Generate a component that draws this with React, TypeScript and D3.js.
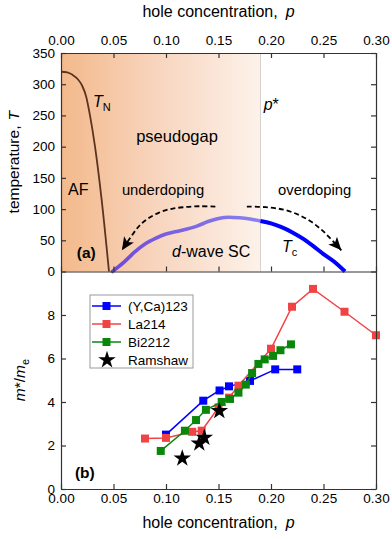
import * as d3 from 'd3';
import React, { useEffect, useRef } from 'react';

// Axis ticks
const pTicks = [0, 0.05, 0.1, 0.15, 0.2, 0.25, 0.3];
const tTicks = [0, 50, 100, 150, 200, 250, 300, 350];
const mTicks = [0, 2, 4, 6, 8];

// (a) phase diagram, [p, T]
const pStar = 0.19;
const tnCurve = [[0, 320], [0.006, 319], [0.011, 315], [0.016, 308], [0.02, 298], [0.024, 280], [0.0276, 250], [0.0324, 200], [0.0387, 115], [0.0457, 0]];
const scDome = [[0.049, 0], [0.06, 15], [0.07, 31], [0.08, 44], [0.09, 53], [0.1, 60], [0.11, 64], [0.12, 68], [0.13, 73], [0.14, 80], [0.15, 85], [0.16, 87], [0.17, 86], [0.18, 84], [0.19, 81], [0.2, 77], [0.21, 71], [0.22, 63], [0.23, 53], [0.24, 41], [0.25, 28], [0.26, 16], [0.2705, 0]];
const underArrow = [[0.147, 104], [0.132, 104.5], [0.117, 103], [0.104, 100], [0.093, 94], [0.083, 85], [0.075, 74], [0.068, 59], [0.058, 34]];
const overArrow = [[0.177, 104], [0.195, 103], [0.212, 99], [0.226, 91], [0.238, 80], [0.248, 67], [0.256, 54], [0.267, 34]];

// (b) effective mass, [p, m*/me]
const ycaData = [[0.1, 2.5], [0.1355, 4.06], [0.151, 4.53], [0.16, 4.72], [0.18, 4.97], [0.204, 5.5], [0.225, 5.5]];
const laData = [[0.08, 2.32], [0.1, 2.35], [0.125, 2.63], [0.134, 2.68], [0.15, 3.75], [0.16, 4.2], [0.169, 4.75], [0.2, 6.45], [0.22, 8.38], [0.24, 9.2], [0.27, 8.15], [0.3, 7.07]];
const biData = [[0.095, 1.75], [0.118, 2.68], [0.1286, 3.17], [0.138, 3.64], [0.153, 4.0], [0.161, 4.14], [0.169, 4.43], [0.176, 4.8], [0.182, 5.33], [0.188, 5.75], [0.194, 5.96], [0.202, 6.12], [0.209, 6.38], [0.219, 6.65]];
const ramshawData = [[0.1155, 1.41], [0.1317, 2.1], [0.1365, 2.36], [0.1508, 3.59]];

const seriesNames = ['(Y,Ca)123', 'La214', 'Bi2212', 'Ramshaw'];
const seriesColors = ['#0000ff', '#f04444', '#0a870a', '#000000'];

export default function App() {
    const svgRef = useRef(null);

    const width = 392;
    const height = 539;
    const left = 61;
    const right = 376;
    const top = 53;
    const mid = 271.5;
    const bottom = 489;
    const font = '"Liberation Sans", Arial, sans-serif';

    useEffect(() => {
        const svg = d3.select(svgRef.current);
        svg.selectAll('*').remove();

        const x = d3.scaleLinear().domain([0, 0.3]).range([left, right]);
        const yT = d3.scaleLinear().domain([0, 350]).range([mid, top]);
        const yM = d3.scaleLinear().domain([0, 10]).range([bottom, mid]);

        // GRADIENTS
        const defs = svg.append('defs');
        const pg = defs.append('linearGradient')
            .attr('id', 'pg')
            .attr('gradientUnits', 'userSpaceOnUse')
            .attr('x1', x(0)).attr('x2', x(pStar)).attr('y1', 0).attr('y2', 0);
        pg.append('stop').attr('offset', 0).attr('stop-color', '#f3b98b');
        pg.append('stop').attr('offset', 0.5).attr('stop-color', '#f8d6c0');
        pg.append('stop').attr('offset', 1).attr('stop-color', '#fdf2ea');

        const dg = defs.append('linearGradient')
            .attr('id', 'dg')
            .attr('gradientUnits', 'userSpaceOnUse')
            .attr('x1', x(0.05)).attr('x2', x(pStar)).attr('y1', 0).attr('y2', 0);
        dg.append('stop').attr('offset', 0).attr('stop-color', '#6e4bd8');
        dg.append('stop').attr('offset', 1).attr('stop-color', '#8a82ee');

        defs.append('marker')
            .attr('id', 'head')
            .attr('viewBox', '0 0 10 10')
            .attr('refX', 10).attr('refY', 5)
            .attr('markerWidth', 13).attr('markerHeight', 13)
            .attr('markerUnits', 'userSpaceOnUse')
            .attr('orient', 'auto')
            .append('path')
            .attr('d', 'M0,0.5 L10,5 L0,9.5 L2.5,5 Z')
            .attr('fill', '#000');

        // PANEL (a)
        svg.append('rect')
            .attr('x', x(0)).attr('y', top)
            .attr('width', x(pStar) - x(0)).attr('height', mid - top)
            .attr('fill', 'url(#pg)');
        svg.append('line')
            .attr('x1', x(pStar)).attr('x2', x(pStar))
            .attr('y1', top).attr('y2', mid)
            .attr('stroke', '#d8d2ce').attr('stroke-width', 1);

        const lineT = d3.line().x(d => x(d[0])).y(d => yT(d[1]));

        svg.append('path')
            .attr('d', lineT.curve(d3.curveMonotoneX)(tnCurve))
            .attr('fill', 'none').attr('stroke', '#5a3420').attr('stroke-width', 1.8);

        svg.append('path')
            .attr('d', lineT.curve(d3.curveMonotoneX)(scDome.filter(d => d[0] <= pStar)))
            .attr('fill', 'none').attr('stroke', 'url(#dg)').attr('stroke-width', 3.6)
            .attr('stroke-linecap', 'round');
        svg.append('path')
            .attr('d', lineT.curve(d3.curveMonotoneX)(scDome.filter(d => d[0] >= pStar)))
            .attr('fill', 'none').attr('stroke', '#0000ff').attr('stroke-width', 4);

        [underArrow, overArrow].forEach(a => {
            svg.append('path')
                .attr('d', lineT.curve(d3.curveCatmullRom)(a))
                .attr('fill', 'none').attr('stroke', '#000').attr('stroke-width', 1.8)
                .attr('stroke-dasharray', '5,3')
                .attr('marker-end', 'url(#head)');
        });

        // ANNOTATIONS (a)
        const txt = (px, py, size) => svg.append('text')
            .attr('x', px).attr('y', py)
            .attr('font-family', font).attr('font-size', size).attr('fill', '#000');

        const tn = txt(x(0.0305), yT(264), 16);
        tn.append('tspan').attr('font-style', 'italic').text('T');
        tn.append('tspan').attr('font-size', 11).attr('dy', 4).text('N');

        const ps = txt(x(0.193), yT(259), 16);
        ps.append('tspan').attr('font-style', 'italic').text('p');
        ps.append('tspan').text('*');

        txt(x(0.1105), yT(208), 16.5).attr('text-anchor', 'middle').text('pseudogap');
        txt(x(0.0067), yT(123), 16).text('AF');
        txt(x(0.058), yT(123), 14.8).text('underdoping');
        txt(x(0.2067), yT(123), 14.8).text('overdoping');

        const dw = txt(x(0.1057), yT(24), 16);
        dw.append('tspan').attr('font-style', 'italic').text('d');
        dw.append('tspan').text('-wave SC');

        txt(x(0.015), yT(22), 15.5).attr('font-weight', 'bold').text('(a)');

        const tc = txt(x(0.2105), yT(31), 16);
        tc.append('tspan').attr('font-style', 'italic').text('T');
        tc.append('tspan').attr('font-size', 11).attr('dy', 4).text('c');

        // PANEL (b)
        const lineM = d3.line().x(d => x(d[0])).y(d => yM(d[1]));
        [ycaData, laData, biData].forEach((s, i) => {
            svg.append('path')
                .attr('d', lineM(s))
                .attr('fill', 'none').attr('stroke', seriesColors[i]).attr('stroke-width', 1.5);
            svg.append('g').selectAll('rect')
                .data(s)
                .enter()
                .append('rect')
                .attr('x', d => x(d[0]) - 4).attr('y', d => yM(d[1]) - 4)
                .attr('width', 8).attr('height', 8)
                .attr('fill', seriesColors[i]);
        });

        const star = d3.symbol().type(d3.symbolStar).size(95);
        svg.append('g').selectAll('path')
            .data(ramshawData)
            .enter()
            .append('path')
            .attr('d', star())
            .attr('transform', d => 'translate(' + x(d[0]) + ',' + yM(d[1]) + ')')
            .attr('fill', '#000');

        txt(x(0.0133), yM(0.5), 15.5).attr('font-weight', 'bold').text('(b)');

        // LEGEND
        const lg = svg.append('g').attr('transform', 'translate(90,295)');
        lg.append('rect')
            .attr('width', 103).attr('height', 73)
            .attr('fill', '#fff').attr('stroke', '#9a9a9a').attr('stroke-width', 1);
        seriesNames.forEach((name, i) => {
            const ly = 11 + i * 18;
            if (i < 3) {
                lg.append('line')
                    .attr('x1', 2).attr('x2', 31).attr('y1', ly).attr('y2', ly)
                    .attr('stroke', seriesColors[i]).attr('stroke-width', 1.5);
                lg.append('rect')
                    .attr('x', 12.5).attr('y', ly - 4).attr('width', 8).attr('height', 8)
                    .attr('fill', seriesColors[i]);
            } else {
                lg.append('path')
                    .attr('d', star())
                    .attr('transform', 'translate(17,' + ly + ')')
                    .attr('fill', '#000');
            }
            lg.append('text')
                .attr('x', 38).attr('y', ly + 5)
                .attr('font-family', font).attr('font-size', 13.5)
                .text(name);
        });

        // AXES
        const fmt = d3.format('.2f');
        const styleAxis = g => {
            g.selectAll('path, line').attr('stroke', '#333').attr('stroke-width', 1.2);
            g.selectAll('text').attr('font-family', font).attr('font-size', 13.5).attr('fill', '#000');
        };

        svg.append('g')
            .attr('transform', 'translate(0,' + top + ')')
            .call(d3.axisTop(x).tickValues(pTicks).tickFormat(fmt).tickSizeInner(-5).tickSizeOuter(0).tickPadding(8))
            .call(styleAxis);
        svg.append('g')
            .attr('transform', 'translate(0,' + mid + ')')
            .call(d3.axisBottom(x).tickValues(pTicks).tickFormat(() => '').tickSizeInner(-5).tickSizeOuter(0))
            .call(styleAxis);
        svg.append('g')
            .attr('transform', 'translate(0,' + bottom + ')')
            .call(d3.axisBottom(x).tickValues(pTicks).tickFormat(fmt).tickSizeInner(-5).tickSizeOuter(0).tickPadding(4))
            .call(styleAxis);

        svg.append('g')
            .attr('transform', 'translate(' + left + ',0)')
            .call(d3.axisLeft(yT).tickValues(tTicks).tickSizeInner(-5).tickSizeOuter(0).tickPadding(6))
            .call(styleAxis);
        svg.append('g')
            .attr('transform', 'translate(' + right + ',0)')
            .call(d3.axisRight(yT).tickValues(tTicks).tickFormat(() => '').tickSizeInner(-5).tickSizeOuter(0))
            .call(styleAxis);
        svg.append('g')
            .attr('transform', 'translate(' + left + ',0)')
            .call(d3.axisLeft(yM).tickValues(mTicks).tickSizeInner(-5).tickSizeOuter(0).tickPadding(6))
            .call(styleAxis);
        svg.append('g')
            .attr('transform', 'translate(' + right + ',0)')
            .call(d3.axisRight(yM).tickValues(mTicks).tickFormat(() => '').tickSizeInner(-5).tickSizeOuter(0))
            .call(styleAxis);

        // AXIS TITLES
        [17, 528].forEach(ty => {
            const t = txt((left + right) / 2, ty, 16).attr('text-anchor', 'middle');
            t.append('tspan').text('hole concentration,');
            t.append('tspan').attr('dx', 8).attr('font-style', 'italic').text('p');
        });

        const tl = svg.append('text')
            .attr('transform', 'translate(19,' + (top + mid) / 2 + ') rotate(-90)')
            .attr('text-anchor', 'middle')
            .attr('font-family', font).attr('font-size', 15.5);
        tl.append('tspan').text('temperature,');
        tl.append('tspan').attr('dx', 5).attr('font-style', 'italic').text('T');

        const ml = svg.append('text')
            .attr('transform', 'translate(25,380) rotate(-90)')
            .attr('text-anchor', 'middle')
            .attr('font-family', font).attr('font-size', 15.5);
        ml.append('tspan').attr('font-style', 'italic').text('m');
        ml.append('tspan').text('*/');
        ml.append('tspan').attr('font-style', 'italic').text('m');
        ml.append('tspan').attr('font-size', 11).attr('dy', 4).text('e');
    }, []);

    return (
        <svg ref={svgRef} width={width} height={height}
            style={{ position: 'absolute', left: 0, top: 0, background: '#fff' }}></svg>
    );
}
